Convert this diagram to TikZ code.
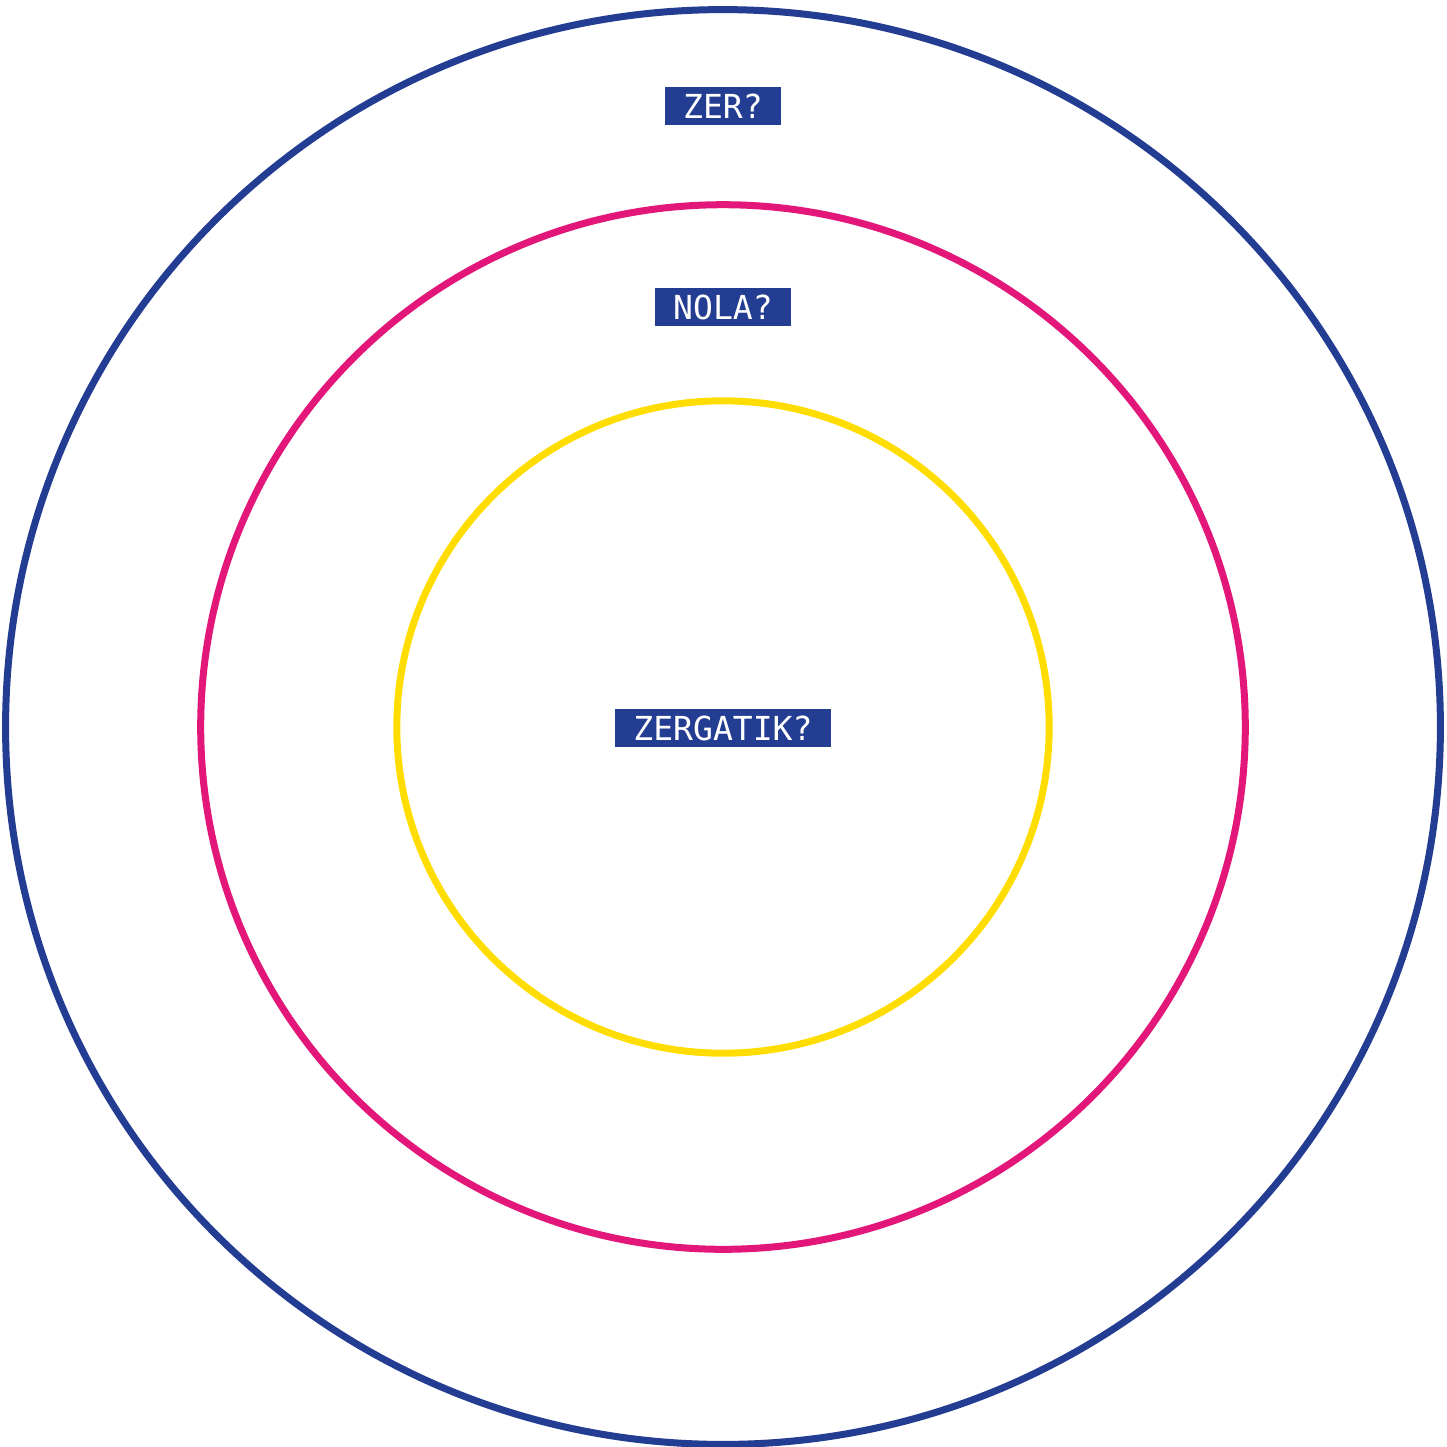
\documentclass[tikz,border=0pt]{standalone}
\usepackage{fontspec}
\setmonofont{DejaVu Sans Mono}
\definecolor{cblue}{HTML}{233D92}
\definecolor{cpink}{HTML}{E3177A}
\definecolor{cyellow}{HTML}{FFDD00}
\tikzset{
  ring/.style={line width=0.07cm},
  lbl/.style={fill=cblue, text=white, font=\ttfamily\fontsize{9.4pt}{10pt}\selectfont,
    inner xsep=0.18cm, inner ysep=0pt, minimum height=0.38cm, text height=0.24cm, text depth=0pt, anchor=center}
}
\begin{document}
\begin{tikzpicture}[x=0.01cm,y=-0.01cm]
\useasboundingbox (0,0) rectangle (1447,1447);
\fill[white] (0,0) rectangle (1447,1447);
\coordinate (c) at (723,727);
\draw[ring, cblue] (c) circle[radius=7.17cm];
\draw[ring, cpink] (c) circle[radius=5.22cm];
\draw[ring, cyellow] (c) circle[radius=3.26cm];
\node[lbl] (zer) at (723,106) {ZER?};
\node[lbl] (nola) at (723,307) {NOLA?};
\node[lbl] (zergatik) at (723,728) {ZERGATIK?};
\end{tikzpicture}
\end{document}
